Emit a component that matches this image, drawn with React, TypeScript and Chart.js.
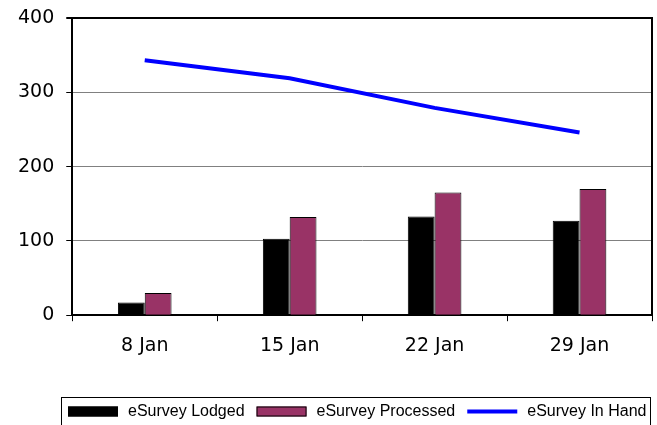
import React, { useEffect, useRef } from "react";
import { Chart, registerables } from "chart.js";

Chart.register(...registerables);

const categories = ["8 Jan", "15 Jan", "22 Jan", "29 Jan"];
const lodged = [17, 103, 133, 127];
const processed = [30, 132, 165, 170];
const inHand = [343, 319, 279, 246];
const yTicks = [0, 100, 200, 300, 400];

const legendPlugin = {
  id: "boxLegend",
  afterDraw(chart: any) {
    const ctx = chart.ctx;
    const ca = chart.chartArea;
    ctx.save();
    ctx.strokeStyle = "#000";
    ctx.lineWidth = 2;
    ctx.beginPath();
    ctx.moveTo(ca.right, ca.top - 1);
    ctx.lineTo(ca.right, ca.bottom);
    ctx.stroke();

    const bx = 61.5, by = 397.5, bw = 589, bh = 40;
    ctx.lineWidth = 1;
    ctx.strokeStyle = "#000";
    ctx.strokeRect(bx, by, bw, bh);
    ctx.font = "16px 'Liberation Sans', Arial, sans-serif";
    ctx.textBaseline = "middle";
    ctx.fillStyle = "#000";
    let x = 68;
    const cy = 411.5;
    chart.data.datasets.forEach((ds: any) => {
      if (ds.type === "line") {
        ctx.strokeStyle = ds.borderColor;
        ctx.lineWidth = 4;
        ctx.beginPath();
        ctx.moveTo(x, cy);
        ctx.lineTo(x + 50, cy);
        ctx.stroke();
      } else {
        ctx.fillStyle = ds.backgroundColor;
        ctx.fillRect(x, cy - 5, 50, 10);
        ctx.strokeStyle = "#000";
        ctx.lineWidth = 1;
        ctx.strokeRect(x + 0.5, cy - 4.5, 49, 9);
      }
      x += 60;
      ctx.fillStyle = "#000";
      ctx.fillText(ds.label, x, cy);
      x += ctx.measureText(ds.label).width + 12;
    });
    ctx.restore();
  },
};

export default function App() {
  const ref = useRef<HTMLCanvasElement | null>(null);
  useEffect(() => {
    if (!ref.current) return;
    const tickFont = { family: "'DejaVu Sans', Verdana, sans-serif", size: 19 };
    const chart = new Chart(ref.current, {
      type: "bar",
      data: {
        labels: categories,
        datasets: [
          {
            type: "bar",
            label: "eSurvey Lodged",
            data: lodged,
            backgroundColor: "#000000",
            borderColor: "#000000",
            borderWidth: 1,
            categoryPercentage: 0.37,
            barPercentage: 1,
            order: 1,
          },
          {
            type: "bar",
            label: "eSurvey Processed",
            data: processed,
            backgroundColor: "#993366",
            borderColor: "#000000",
            borderWidth: 1,
            categoryPercentage: 0.37,
            barPercentage: 1,
            order: 1,
          },
          {
            type: "line",
            label: "eSurvey In Hand",
            data: inHand,
            borderColor: "#0000FF",
            backgroundColor: "#0000FF",
            borderWidth: 4,
            pointRadius: 0,
            tension: 0,
            order: 0,
          } as any,
        ],
      },
      options: {
        animation: false,
        responsive: true,
        maintainAspectRatio: false,
        layout: { padding: { left: 6, right: 5, top: 18, bottom: 55 } },
        plugins: {
          legend: { display: false },
          tooltip: { enabled: false },
        },
        scales: {
          x: {
            offset: true,
            grid: {
              display: true,
              drawOnChartArea: false,
              offset: true,
              tickLength: 6,
              color: "#000",
              lineWidth: 1,
            },
            border: { display: true, color: "#000", width: 2 },
            ticks: { font: tickFont, color: "#000", padding: 13, maxRotation: 0 },
          },
          y: {
            min: 0,
            max: 400,
            afterBuildTicks: (axis: any) => {
              axis.ticks = yTicks.map((v) => ({ value: v }));
            },
            afterFit: (axis: any) => {
              axis.paddingTop = 0;
              axis.paddingBottom = 0;
            },
            grid: {
              color: (c: any) => (c.tick && c.tick.value === 400 ? "#000" : "#808080"),
              lineWidth: (c: any) => (c.tick && c.tick.value === 400 ? 2 : 1),
              tickColor: "#000",
              tickLength: 6,
            },
            border: { display: true, color: "#000", width: 2 },
            ticks: { font: tickFont, color: "#000", padding: 12 },
          },
        },
      },
      plugins: [legendPlugin],
    });
    return () => chart.destroy();
  }, []);
  return (
    <div style={{ position: "absolute", left: 0, top: 0, width: 657, height: 425, background: "#fff" }}>
      <canvas ref={ref} />
    </div>
  );
}
